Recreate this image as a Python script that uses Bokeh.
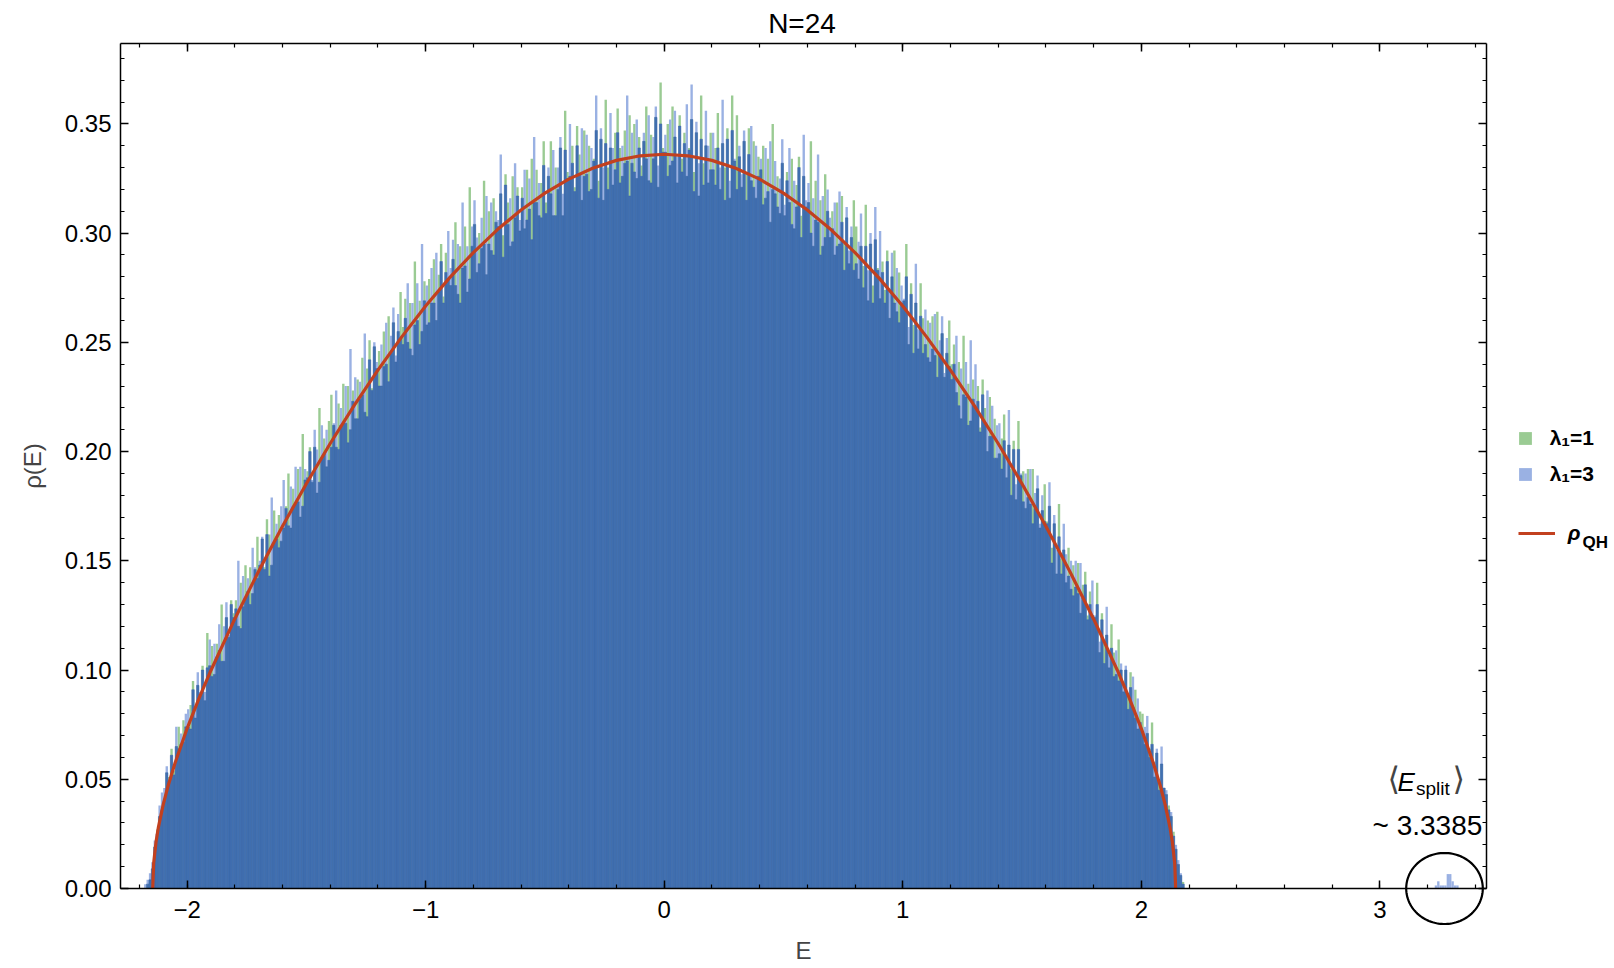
import numpy as np
from bokeh.plotting import figure
from bokeh.models import (Range1d, LinearAxis, SingleIntervalTicker, NumeralTickFormatter,
                          Legend, LegendItem, Label, PolyAnnotation, CustomJSTickFormatter)
from bokeh.embed import file_html
from bokeh.resources import INLINE

FONT = "Liberation Sans"

# ---------------- data ----------------
bin_start = -2.18          # left edge of the first histogram bin
bin_width = 0.01

# histogram heights rho(E), in units of 1e-3, lambda_1 = 1 (green)
lam1_rho_milli = [
    0, 2, 4, 9, 19, 27, 33, 36,
    40, 53, 51, 64, 54, 65, 74, 66, 77, 74,
    74, 84, 95, 78, 93, 89, 102, 86, 117, 102,
    111, 98, 112, 109, 130, 104, 124, 115, 132, 126,
    132, 120, 140, 129, 148, 136, 147, 135, 146, 161,
    148, 160, 147, 169, 162, 148, 173, 160, 171, 159,
    165, 175, 190, 165, 183, 176, 192, 170, 208, 187,
    191, 202, 186, 202, 181, 220, 197, 206, 193, 214,
    226, 212, 202, 222, 212, 231, 213, 230, 210, 228,
    215, 233, 224, 243, 218, 238, 251, 229, 248, 238,
    246, 230, 255, 240, 262, 245, 259, 241, 255, 273,
    257, 270, 250, 268, 244, 287, 260, 269, 255, 278,
    258, 279, 268, 288, 260, 281, 295, 271, 291, 279,
    276, 288, 305, 272, 294, 284, 303, 273, 321, 294,
    304, 282, 300, 293, 324, 281, 310, 292, 316, 305,
    303, 318, 299, 327, 314, 294, 326, 307, 321, 301,
    321, 302, 329, 311, 334, 314, 329, 308, 323, 342,
    314, 326, 342, 308, 330, 320, 339, 308, 356, 328,
    326, 340, 321, 349, 336, 315, 347, 327, 340, 320,
    334, 347, 324, 343, 315, 361, 330, 339, 322, 346,
    357, 339, 326, 347, 333, 354, 332, 350, 325, 344,
    331, 342, 358, 324, 345, 334, 353, 321, 369, 339,
    337, 350, 331, 358, 344, 323, 354, 334, 346, 326,
    339, 352, 328, 346, 317, 363, 332, 340, 323, 346,
    329, 339, 355, 320, 341, 330, 348, 316, 363, 333,
    354, 335, 321, 342, 327, 348, 324, 342, 316, 335,
    329, 340, 316, 334, 305, 350, 318, 326, 309, 332,
    308, 328, 314, 334, 302, 322, 335, 308, 326, 312,
    314, 342, 294, 324, 305, 315, 294, 327, 310, 298,
    310, 290, 314, 295, 317, 295, 307, 286, 298, 315,
    303, 279, 294, 285, 313, 269, 295, 276, 297, 284,
    270, 287, 274, 292, 261, 280, 292, 264, 282, 268,
    269, 295, 249, 277, 258, 268, 247, 277, 261, 249,
    260, 241, 262, 244, 264, 244, 254, 234, 245, 260,
    240, 249, 227, 241, 215, 253, 225, 231, 214, 233,
    220, 230, 211, 233, 220, 200, 225, 207, 215, 197,
    199, 206, 217, 188, 203, 192, 205, 178, 214, 189,
    191, 174, 192, 176, 192, 174, 183, 165, 173, 185,
    168, 175, 156, 167, 144, 176, 151, 155, 140, 156,
    137, 148, 138, 149, 126, 139, 145, 125, 136, 125,
    124, 140, 108, 126, 112, 116, 101, 121, 108, 98,
    114, 100, 90, 100, 89, 99, 83, 91, 73, 81,
    80, 66, 71, 64, 76, 51, 62, 49, 57, 46,
    43, 38, 33, 26, 18, 11, 6, 3,
]

# histogram heights rho(E), in units of 1e-3, lambda_1 = 3 (blue)
lam3_rho_milli = [
    2, 4, 7, 12, 22, 25, 38, 44,
    46, 56, 49, 61, 52, 74, 64, 71, 67, 80,
    82, 73, 91, 83, 99, 90, 100, 90, 101, 114,
    97, 112, 106, 121, 104, 120, 131, 116, 130, 124,
    128, 150, 119, 143, 133, 142, 130, 156, 147, 142,
    150, 161, 146, 162, 143, 179, 158, 167, 156, 175,
    187, 174, 166, 184, 175, 193, 177, 193, 175, 192,
    188, 200, 187, 210, 201, 186, 212, 199, 210, 196,
    202, 213, 228, 201, 220, 213, 230, 204, 247, 223,
    234, 215, 232, 226, 254, 216, 242, 228, 250, 241,
    230, 249, 239, 259, 232, 253, 266, 244, 263, 252,
    249, 261, 277, 247, 268, 258, 277, 249, 295, 269,
    276, 259, 284, 268, 291, 273, 287, 268, 282, 301,
    284, 297, 276, 295, 268, 314, 285, 294, 279, 303,
    315, 298, 286, 307, 295, 317, 295, 314, 290, 310,
    306, 336, 289, 322, 304, 316, 296, 332, 317, 306,
    316, 329, 306, 325, 297, 344, 314, 323, 307, 331,
    309, 330, 318, 338, 308, 330, 344, 318, 338, 325,
    350, 332, 319, 340, 327, 348, 326, 345, 319, 339,
    333, 363, 316, 348, 330, 341, 320, 355, 339, 329,
    346, 323, 340, 332, 363, 317, 346, 328, 352, 339,
    326, 346, 334, 354, 323, 344, 358, 331, 350, 337,
    345, 326, 352, 333, 356, 335, 349, 328, 341, 359,
    338, 368, 319, 351, 332, 343, 322, 356, 340, 329,
    346, 322, 339, 330, 361, 315, 343, 324, 347, 334,
    320, 340, 327, 347, 315, 336, 349, 321, 340, 326,
    334, 313, 339, 319, 342, 320, 333, 312, 325, 343,
    313, 324, 339, 304, 324, 312, 330, 298, 345, 315,
    323, 300, 316, 306, 336, 290, 317, 298, 320, 307,
    302, 314, 294, 319, 305, 283, 312, 292, 303, 283,
    286, 296, 309, 275, 294, 283, 300, 268, 312, 283,
    301, 282, 268, 287, 273, 291, 268, 284, 259, 276,
    270, 280, 257, 272, 245, 286, 256, 262, 245, 265,
    243, 259, 247, 263, 234, 251, 262, 236, 252, 239,
    233, 240, 253, 221, 238, 226, 241, 212, 251, 224,
    240, 223, 209, 226, 213, 228, 207, 221, 197, 212,
    213, 192, 205, 196, 219, 180, 201, 185, 201, 190,
    177, 190, 179, 192, 167, 181, 189, 167, 180, 168,
    167, 186, 149, 171, 155, 161, 144, 167, 153, 143,
    150, 134, 150, 135, 149, 133, 139, 123, 130, 141,
    125, 130, 113, 123, 103, 129, 107, 110, 97, 109,
    95, 103, 94, 102, 82, 92, 97, 78, 87, 76,
    72, 74, 79, 60, 66, 58, 64, 45, 65, 46,
    45, 36, 35, 24, 20, 13, 7, 2,
]

# split-off states of lambda_1 = 3 near E ~ 3.3
split_E = [3.235, 3.245, 3.255, 3.265, 3.275, 3.285, 3.295, 3.305, 3.315, 3.325]
split_rho = [0.0014, 0.0033, 0.0014, 0.0014, 0.0014, 0.0066, 0.0066, 0.0033, 0.0014, 0.0014]

# q-Hermite density curve rho_QH
qh_E = [-2.144, -2.14, -2.13, -2.12, -2.10, -2.08, -2.05, -2.00, -1.95, -1.90,
        -1.80, -1.70, -1.60, -1.50, -1.40, -1.30, -1.20, -1.10, -1.00, -0.90,
        -0.80, -0.70, -0.60, -0.50, -0.40, -0.30, -0.20, -0.10, 0.00,
        0.10, 0.20, 0.30, 0.40, 0.50, 0.60, 0.70, 0.80, 0.90, 1.00,
        1.10, 1.20, 1.30, 1.40, 1.50, 1.60, 1.70, 1.80, 1.90, 1.95,
        2.00, 2.05, 2.08, 2.10, 2.12, 2.13, 2.14, 2.144]
qh_rho = [0.0, 0.0116, 0.0214, 0.0281, 0.0384, 0.0468, 0.0576, 0.0732, 0.0870, 0.0998,
          0.1234, 0.1452, 0.1658, 0.1853, 0.2037, 0.2210, 0.2373, 0.2525, 0.2666, 0.2795,
          0.2911, 0.3015, 0.3106, 0.3183, 0.3247, 0.3297, 0.3333, 0.3354, 0.3361,
          0.3354, 0.3333, 0.3297, 0.3247, 0.3183, 0.3106, 0.3015, 0.2911, 0.2795, 0.2666,
          0.2525, 0.2373, 0.2210, 0.2037, 0.1853, 0.1658, 0.1452, 0.1234, 0.0998, 0.0870,
          0.0732, 0.0576, 0.0468, 0.0384, 0.0281, 0.0214, 0.0116, 0.0]

# ---------------- derived ----------------
lam1_rho = np.array(lam1_rho_milli) / 1000.0
lam3_rho = np.array(lam3_rho_milli) / 1000.0
centers = bin_start + bin_width * (np.arange(len(lam1_rho)) + 0.5)
both_rho = np.minimum(lam1_rho, lam3_rho)

GREEN = "#9ACB93"
BLUE = "#9AB1E3"
DARK = "#4170B1"
RED = "#C2401F"

# The plotted box spans E in [X0, X1] and rho in [0, Y1]; the Bokeh frame covers the
# whole canvas so that the annotations around the box are not clipped, and the four
# axes are pinned (fixed_location) to the sides of the box.
W, H = 1612, 966
X0, X1, Y1 = -2.279, 3.447, 0.3868
BOX_L, BOX_R, BOX_T, BOX_B = 120, 1486, 43, 888          # box edges on the canvas, px
sx = (BOX_R - BOX_L) / (X1 - X0)
sy = (BOX_B - BOX_T) / Y1
x_range = Range1d(X0 - BOX_L / sx, X1 + (W - BOX_R) / sx)
y_range = Range1d(-(H - BOX_B) / sy, Y1 + BOX_T / sy)

p = figure(width=W, height=H, x_range=x_range, y_range=y_range,
           output_backend="svg", toolbar_location=None, title=None,
           min_border_left=0, min_border_right=0, min_border_top=0, min_border_bottom=0)
p.background_fill_color = "white"
p.border_fill_color = "white"
p.outline_line_color = None
p.xgrid.visible = False
p.ygrid.visible = False

xticker = SingleIntervalTicker(interval=1, num_minor_ticks=5)
yticker = SingleIntervalTicker(interval=0.05, num_minor_ticks=5)


def style_axis(ax, show_labels):
    ax.axis_line_color = "black"
    ax.axis_line_width = 1.5
    ax.major_tick_in = 8
    ax.major_tick_out = 0
    ax.minor_tick_in = 4
    ax.minor_tick_out = 0
    ax.major_tick_line_color = "black"
    ax.major_tick_line_width = 1.5
    ax.minor_tick_line_color = "black"
    ax.minor_tick_line_width = 1.2
    ax.major_label_text_font = FONT
    ax.major_label_text_color = "black"
    if show_labels:
        ax.major_label_text_font_size = "24px"
    else:
        ax.major_label_text_font_size = "0px"
        ax.major_label_standoff = 0
        ax.formatter = CustomJSTickFormatter(code="return ''")


bottom = p.below[0]
bottom.ticker = xticker
bottom.fixed_location = 0
bottom.bounds = (X0, X1)
bottom.major_label_overrides = {-2: "\u22122", -1: "\u22121"}
style_axis(bottom, True)
bottom.major_label_standoff = 12
bottom.axis_label = "E"
bottom.axis_label_text_font = FONT
bottom.axis_label_text_font_size = "24px"
bottom.axis_label_text_font_style = "normal"
bottom.axis_label_standoff = 16

left = p.left[0]
left.ticker = yticker
left.fixed_location = X0
left.bounds = (0, Y1)
left.formatter = NumeralTickFormatter(format="0.00")
style_axis(left, True)
left.major_label_standoff = 9
left.axis_label = "\u03c1(E)"
left.axis_label_text_font = FONT
left.axis_label_text_font_size = "24px"
left.axis_label_text_font_style = "normal"
left.axis_label_standoff = 16

top = LinearAxis(ticker=xticker, fixed_location=Y1, bounds=(X0, X1))
style_axis(top, False)
p.add_layout(top, "above")
right = LinearAxis(ticker=yticker, fixed_location=X1, bounds=(0, Y1))
style_axis(right, False)
p.add_layout(right, "right")

# histograms
rg = p.vbar(x=centers, width=bin_width, top=lam1_rho, bottom=0,
            fill_color=GREEN, line_color=None)
rb = p.vbar(x=centers, width=bin_width, top=lam3_rho, bottom=0,
            fill_color=BLUE, line_color=None)
p.vbar(x=centers, width=bin_width, top=both_rho, bottom=0,
       fill_color=DARK, line_color="#3A66A5", line_width=0.5)
p.vbar(x=split_E, width=bin_width, top=split_rho, bottom=0,
       fill_color=BLUE, line_color=None)

# q-Hermite curve
rl = p.line(qh_E, qh_rho, line_color=RED, line_width=3.2)


def px_x(px):   # canvas px -> E
    return X0 + (px - BOX_L) / sx


def px_y(py):   # canvas px -> rho
    return (BOX_B - py) / sy


def text_at(left_px, baseline_px, text, size, align="left", style="normal", font=FONT):
    # vertically centred text whose baseline lands at baseline_px
    p.add_layout(Label(x=px_x(left_px), y=px_y(baseline_px - 0.35 * size), text=text,
                       text_font=font, text_font_size=f"{size}px", text_font_style=style,
                       text_align=align, text_baseline="middle", text_color="black"))


# title
text_at(801.5, 32.5, "N=24", 28, align="center")


def plain_legend(lg):
    lg.padding = 0
    lg.margin = 0
    lg.border_line_color = None
    lg.background_fill_alpha = 0
    lg.label_text_font = FONT
    lg.label_text_color = "black"


# legends (location = bottom-left corner, px from the canvas' bottom-left)
leg1 = Legend(items=[LegendItem(label="\u03bb\u2081=1", renderers=[rg]),
                     LegendItem(label="\u03bb\u2081=3", renderers=[rb])],
              location=(1516.7, H - 485.8))
plain_legend(leg1)
leg1.glyph_width = 16
leg1.glyph_height = 16
leg1.label_height = 24
leg1.label_standoff = 17
leg1.spacing = 12
leg1.label_text_font_size = "21px"
leg1.label_text_font_style = "bold"
p.add_layout(leg1, "center")

leg2 = Legend(items=[LegendItem(label="\u03c1", renderers=[rl])],
              location=(1517.7, H - 545))
plain_legend(leg2)
leg2.glyph_width = 37
leg2.glyph_height = 20
leg2.label_height = 20
leg2.label_standoff = 13
leg2.label_text_font_size = "21px"
leg2.label_text_font_style = "bold italic"
p.add_layout(leg2, "center")
text_at(1582, 548.3, "QH", 17, style="bold")

# <E_split> ~ 3.3385 annotation
p.add_layout(Label(x=px_x(1387), y=px_y(778.5), text="\u27e8", text_font="DejaVu Sans",
                   text_font_size="32px", text_align="left", text_baseline="middle"))
text_at(1397, 791, "E", 26, style="italic")
text_at(1415.5, 795, "split", 19)
p.add_layout(Label(x=px_x(1452), y=px_y(778.5), text="\u27e9", text_font="DejaVu Sans",
                   text_font_size="32px", text_align="left", text_baseline="middle"))
text_at(1372, 835, "~ 3.3385", 28)

# circle around the split-off states
t = np.linspace(0, 2 * np.pi, 121)
circ_cx, circ_cy = px_x(1444), 0.0
circ_rx, circ_ry = 38.3 / sx, 35.5 / sy
p.add_layout(PolyAnnotation(xs=list(circ_cx + circ_rx * np.cos(t)),
                            ys=list(circ_cy + circ_ry * np.sin(t)),
                            fill_alpha=0, line_color="black", line_alpha=1.0,
                            line_width=2.2))

open("out.html", "w").write(file_html(p, INLINE))
